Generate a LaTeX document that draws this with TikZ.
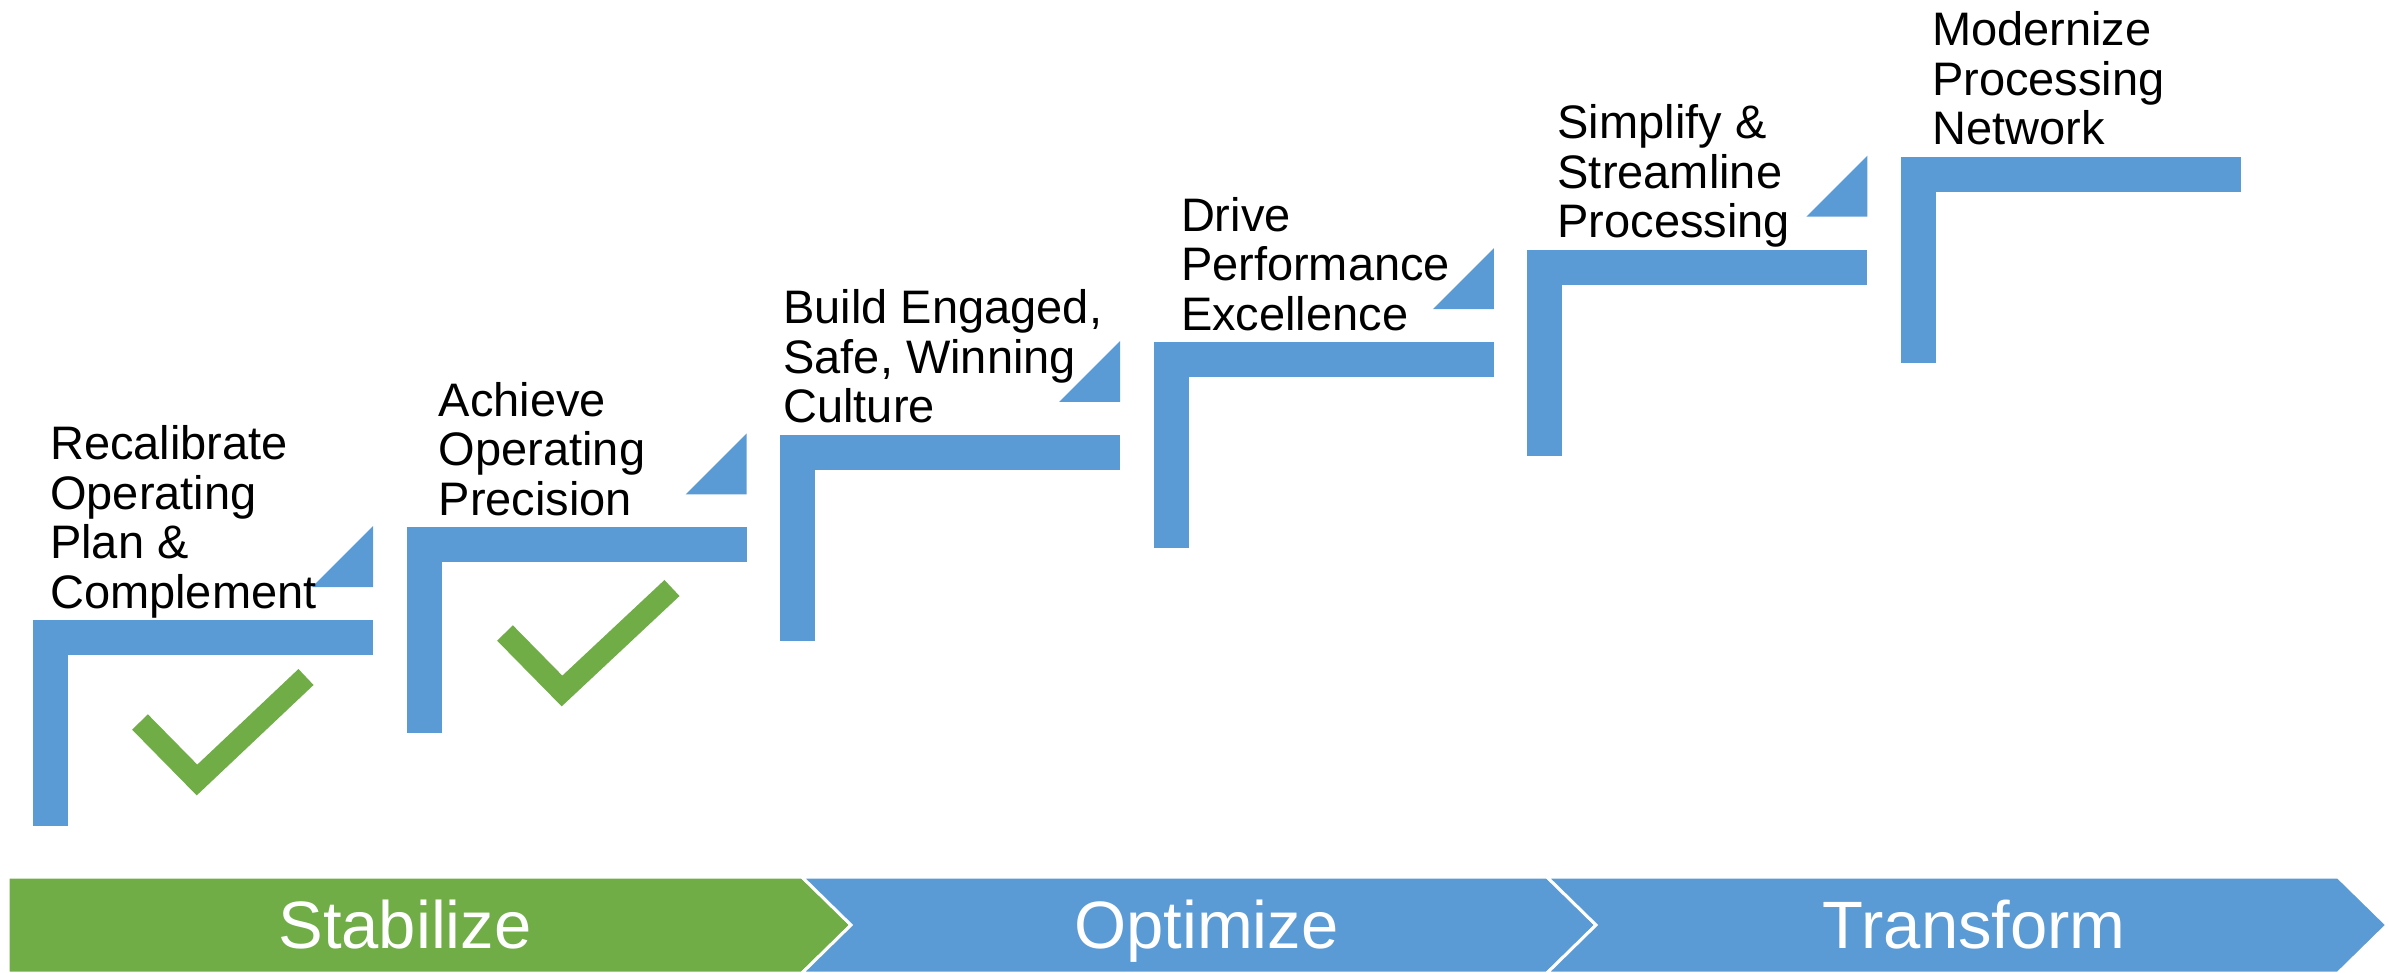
\documentclass[tikz,border=0pt]{standalone}
\usepackage{xcolor}
\usepackage{fontspec}
\setmainfont{Liberation Sans}
\usepackage{tikz}
\usetikzlibrary{calc}
\definecolor{stepblue}{HTML}{5B9BD5}
\definecolor{stepgreen}{HTML}{70AD47}
\tikzset{
  steptext/.style={anchor=base west, align=left, inner sep=0pt, text=black,
    font=\fontsize{47}{49.5}\selectfont},
  phasetext/.style={anchor=base, inner sep=0pt, text=white,
    font=\fontsize{67}{70}\selectfont},
  phasebox/.style={draw=white, line width=3pt, line join=miter},
  tick/.style={stepgreen, line width=22pt, line join=miter},
}

\begin{document}
\begin{tikzpicture}[x=1pt,y=-1pt]
\useasboundingbox (0,0) rectangle (2389,973);
\foreach \a/\b/\d/\c/\lbl in {8/802/0/stepgreen/Stabilize,802/1547/49/stepblue/Optimize,1547/2338/49/stepblue/Transform} {
 \path[phasebox, fill=\c] (\a,877) -- (\b,877) -- (\b+49,925) -- (\b,973) -- (\a,973) -- (\a+\d,925) -- cycle;
 \node[phasetext] (\lbl) at ({(\a+\b+1.3*\d)/2},948) {\lbl};
}
\foreach \i/\dx/\txt in {0/17/{Recalibrate\\Operating\\Plan \&\\Complement},
  1/32/{Achieve\\Operating\\Precision},
  2/3/{Build Engaged,\\Safe, Winning\\Culture},
  3/27/{Drive\\Performance\\Excellence},
  4/30/{Simplify \&\\Streamline\\Processing},
  5/31/{Modernize\\Processing\\Network}} {
 \pgfmathsetmacro\X{33+373.6*\i}
 \pgfmathsetmacro\Y{620-92.6*\i}
 \fill[stepblue] (\X,\Y) rectangle ++(340,35);
 \fill[stepblue] (\X,\Y) rectangle ++(35,206);
 \ifnum\i<5
  \fill[stepblue] (\X+340,\Y-33) -- ++(-61,0) -- ++(61,-61) -- cycle;
 \fi
 \node[steptext] (step\i) at (\X+\dx,\Y-12) {\txt};
}
\draw[tick] (140,722) -- (197,780) -- (306,677);
\draw[tick] (505,633) -- (562,691) -- (672,588);
\end{tikzpicture}
\end{document}
